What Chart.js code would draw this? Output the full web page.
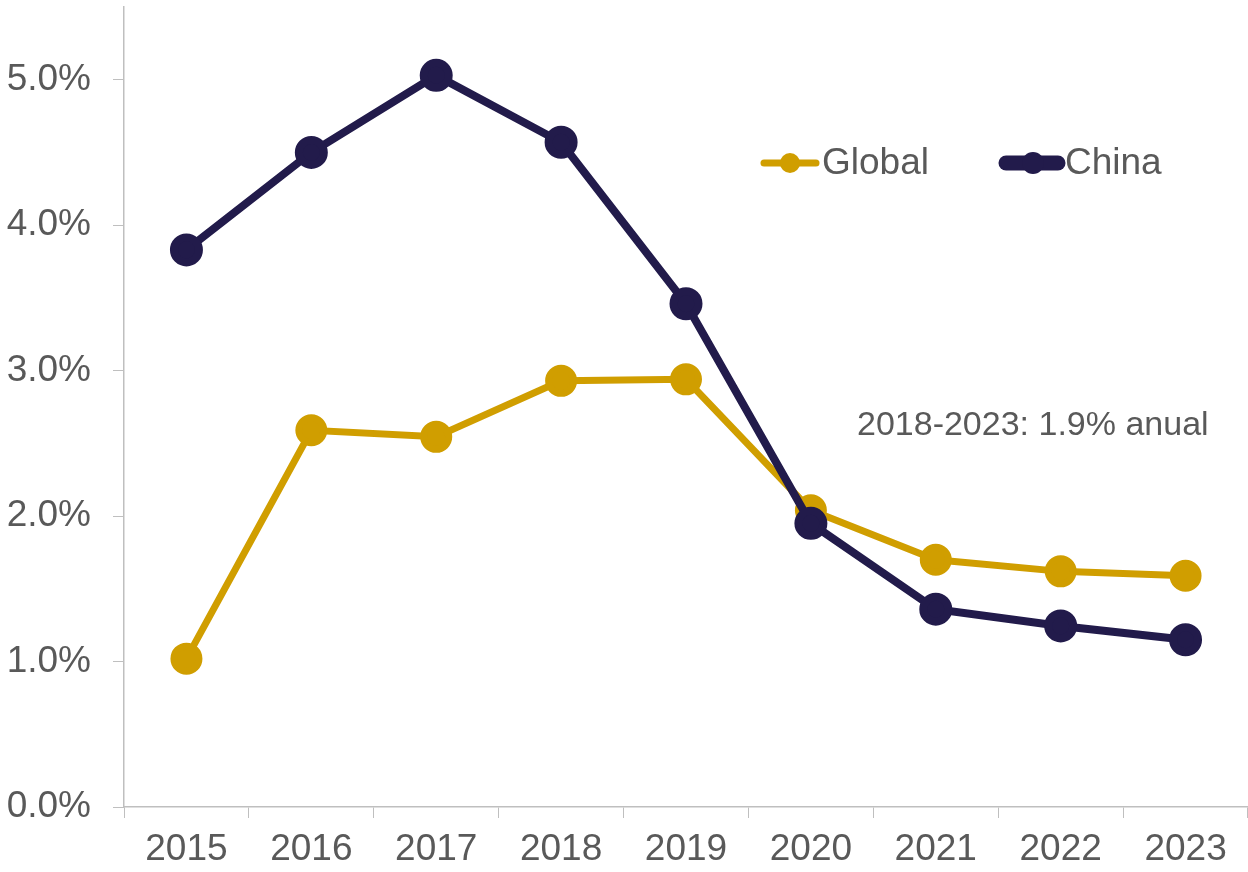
<!DOCTYPE html>
<html>
<head>
<meta charset="utf-8">
<script src="https://cdn.jsdelivr.net/npm/chart.js@4.4.1/dist/chart.umd.min.js"></script>
<style>
  body { margin: 0; background: #fff; }
  #wrap { width: 1248px; height: 872px; position: relative; }
</style>
</head>
<body>
<div id="wrap"><canvas id="growthChart"></canvas></div>
<script>
const years = ["2015", "2016", "2017", "2018", "2019", "2020", "2021", "2022", "2023"];
const globalValues = [1.02, 2.59, 2.545, 2.93, 2.94, 2.04, 1.70, 1.62, 1.59];
const chinaValues = [3.83, 4.50, 5.03, 4.57, 3.46, 1.95, 1.36, 1.245, 1.15];
const yTicks = [0, 1, 2, 3, 4, 5];
const seriesNames = ["Global", "China"];
const noteText = "2018-2023: 1.9% anual";

const gold = "#D09E00";
const navy = "#221B4B";
const textGrey = "#595959";
const axisGrey = "#BFBFBF";
const fontFamily = "'Liberation Sans', Arial, sans-serif";

// legend with a line + dot, and the note text
const extras = {
  id: "extras",
  afterDraw(chart) {
    const ctx = chart.ctx;
    ctx.save();
    ctx.lineCap = "round";
    // Global
    ctx.strokeStyle = gold;
    ctx.lineWidth = 7;
    ctx.beginPath(); ctx.moveTo(764, 163); ctx.lineTo(816, 163); ctx.stroke();
    ctx.fillStyle = gold;
    ctx.beginPath(); ctx.arc(790, 163, 10, 0, Math.PI * 2); ctx.fill();
    // China
    ctx.strokeStyle = navy;
    ctx.lineWidth = 15;
    ctx.beginPath(); ctx.moveTo(1006, 163); ctx.lineTo(1058, 163); ctx.stroke();
    ctx.fillStyle = navy;
    ctx.beginPath(); ctx.arc(1033, 163, 11, 0, Math.PI * 2); ctx.fill();

    ctx.fillStyle = textGrey;
    ctx.font = "37px " + fontFamily;
    ctx.textBaseline = "middle";
    ctx.fillText(seriesNames[0], 822, 164);
    ctx.fillText(seriesNames[1], 1065, 164);

    ctx.font = "34px " + fontFamily;
    ctx.fillText(noteText, 857, 426);
    ctx.restore();
  }
};

new Chart("growthChart", {
  type: "line",
  data: {
    labels: years,
    datasets: [
      {
        label: seriesNames[1],
        data: chinaValues,
        borderColor: navy,
        backgroundColor: navy,
        borderWidth: 8,
        pointRadius: 12.5,
        pointHoverRadius: 12.5,
        tension: 0
      },
      {
        label: seriesNames[0],
        data: globalValues,
        borderColor: gold,
        backgroundColor: gold,
        borderWidth: 7,
        pointRadius: 12.5,
        pointHoverRadius: 12.5,
        tension: 0
      }
    ]
  },
  options: {
    responsive: true,
    maintainAspectRatio: false,
    animation: false,
    layout: { autoPadding: false, padding: { top: 7, right: 0, left: 0, bottom: 0 } },
    plugins: {
      legend: { display: false },
      tooltip: { enabled: false }
    },
    scales: {
      x: {
        offset: true,
        grid: {
          offset: true,
          drawOnChartArea: false,
          drawTicks: true,
          tickLength: 11,
          color: axisGrey
        },
        border: { display: true, color: axisGrey, width: 1.5 },
        ticks: {
          color: textGrey,
          font: { family: fontFamily, size: 37 },
          padding: 10,
          maxRotation: 0
        },
        afterFit(scale) {
          scale.height = 65;
          scale.paddingLeft = 0;
          scale.paddingRight = 0;
        }
      },
      y: {
        min: 0,
        max: 5.5,
        grid: {
          drawOnChartArea: false,
          drawTicks: true,
          tickLength: 11,
          color: axisGrey
        },
        border: { display: true, color: axisGrey, width: 1.5 },
        ticks: {
          stepSize: 1,
          color: textGrey,
          font: { family: fontFamily, size: 37 },
          padding: 22,
          callback: v => v.toFixed(1) + "%"
        },
        afterBuildTicks(scale) {
          scale.ticks = yTicks.map(v => ({ value: v }));
        },
        afterFit(scale) {
          scale.width = 124;
          scale.paddingTop = 0;
          scale.paddingBottom = 0;
        }
      }
    }
  },
  plugins: [extras]
});
</script>
</body>
</html>
